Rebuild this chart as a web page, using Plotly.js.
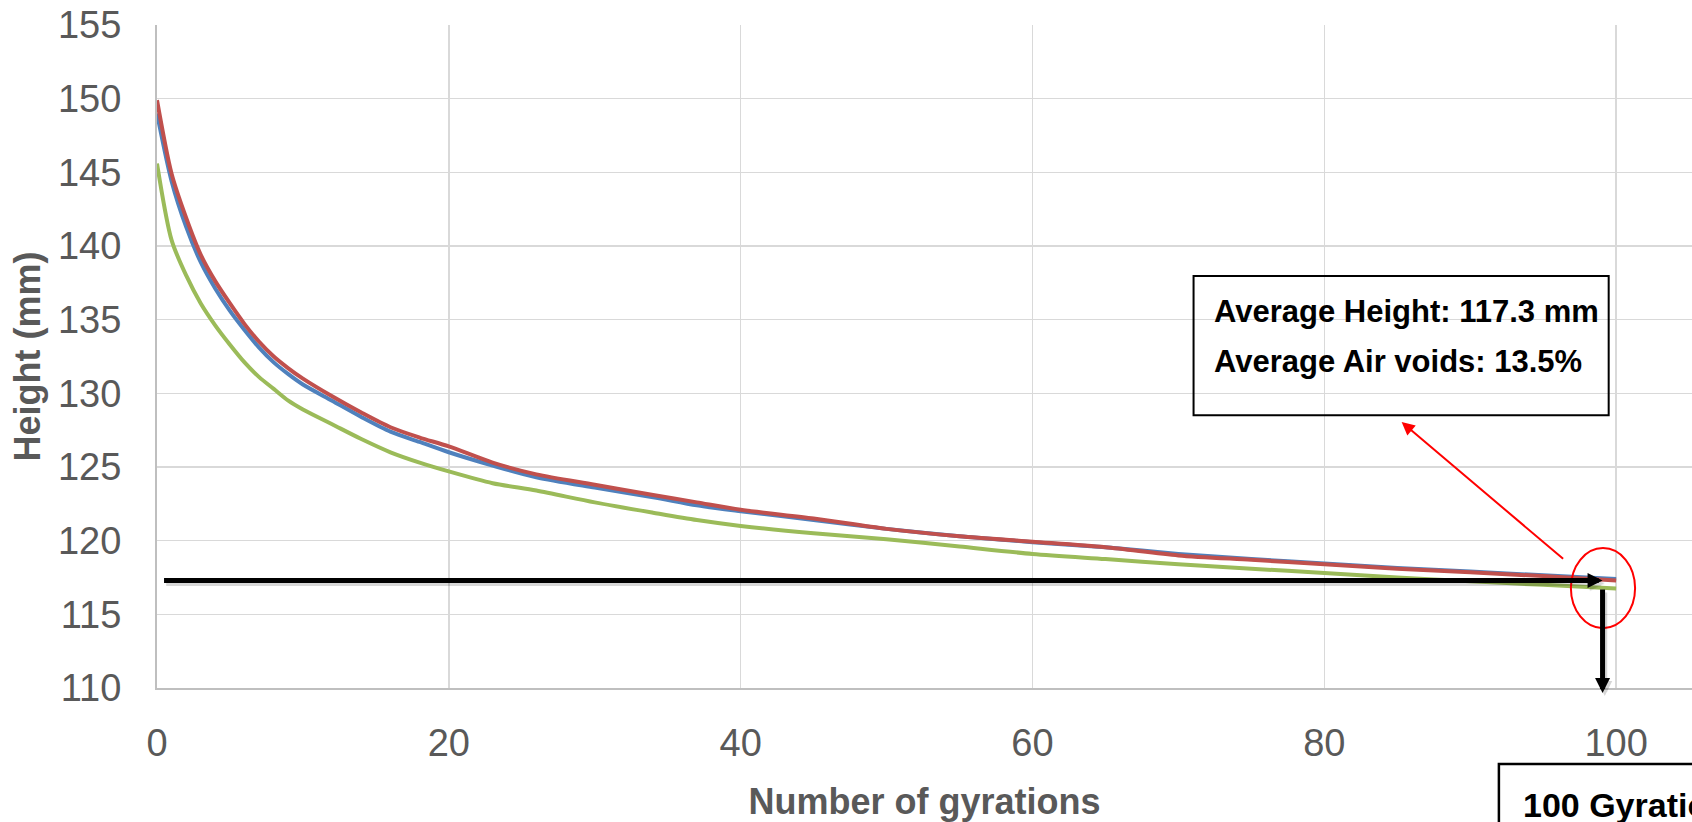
<!DOCTYPE html>
<html>
<head>
<meta charset="utf-8">
<script src="https://cdn.plot.ly/plotly-3.0.1.min.js"></script>
<style>
html,body{margin:0;padding:0;overflow:hidden;background:#fff}
#chart{width:1692px;height:822px}
</style>
</head>
<body>
<div id="chart"></div>
<script>
// ---- data ----
const gyrations = [0,1,2,3,4,5,6,7,8,9,10,12,14,16,18,20,23,26,30,34,37,40,45,50,55,60,65,70,75,80,85,90,95,100];
const sampleBlue = [149.0,144.4,141.3,138.9,137.1,135.6,134.3,133.1,132.1,131.3,130.6,129.5,128.4,127.4,126.7,126.0,125.1,124.3,123.6,122.95,122.4,122.0,121.4,120.8,120.3,119.9,119.55,119.1,118.75,118.45,118.15,117.9,117.65,117.4];
const sampleRed = [149.9,144.9,141.9,139.4,137.6,136.1,134.7,133.5,132.5,131.7,131.0,129.8,128.7,127.7,127.0,126.4,125.3,124.5,123.8,123.1,122.6,122.1,121.5,120.8,120.3,119.93,119.55,119.0,118.7,118.4,118.1,117.85,117.6,117.3];
const sampleGreen = [145.6,140.4,138.0,136.1,134.6,133.3,132.1,131.1,130.3,129.5,128.9,127.9,126.9,126.0,125.3,124.7,123.9,123.4,122.6,121.9,121.4,121.0,120.5,120.1,119.6,119.1,118.75,118.4,118.1,117.8,117.5,117.25,117.0,116.75];
const xTicks = [0,20,40,60,80,100];
const yTicks = [110,115,120,125,130,135,140,145,150,155];
const avgHeight = 117.3;
const avgAirVoids = 13.5;
const targetGyrations = 100;
const xTitle = 'Number of gyrations';
const yTitle = 'Height (mm)';

// ---- styling ----
const FONT = 'Liberation Sans, Arial, sans-serif';
const GREY = '#595959';

function line(y, color) {
  return {x: gyrations, y: y, type: 'scatter', mode: 'lines',
          line: {color: color, width: 4, shape: 'spline', smoothing: 0.8}, hoverinfo: 'skip'};
}
const traces = [
  line(sampleBlue, '#4F81BD'),
  line(sampleRed, '#C0504D'),
  line(sampleGreen, '#9BBB59')
];

const arrowTipX = 99.07;
const SH = 0.2; // shadow offset in mm (~3px)

function blackArrow(x, y, ax, ay, yref, color) {
  return {xref: 'x', yref: yref, axref: 'x', ayref: yref, x: x, y: y, ax: ax, ay: ay,
          text: '', showarrow: true, arrowhead: 2, arrowsize: 0.6, arrowwidth: 5,
          arrowcolor: color, standoff: 0, startstandoff: 0};
}

const layout = {
  width: 1692, height: 822,
  margin: {l: 157, r: 0, t: 25, b: 134, pad: 0},
  paper_bgcolor: '#fff', plot_bgcolor: '#fff',
  showlegend: false,
  xaxis: {
    range: [0, 105.2], tickvals: xTicks, ticks: '',
    showgrid: true, gridcolor: '#d9d9d9', gridwidth: 1.5,
    showline: true, linecolor: '#bfbfbf', linewidth: 2, zeroline: false,
    tickfont: {family: FONT, size: 38, color: GREY},
    ticklabelstandoff: 20,
    title: {text: '<b>' + xTitle + '</b>', font: {family: FONT, size: 36, color: GREY}, standoff: 36},
    automargin: false
  },
  yaxis: {
    range: [110, 155], tickvals: yTicks, ticks: '',
    showgrid: true, gridcolor: '#d9d9d9', gridwidth: 1.5,
    showline: true, linecolor: '#bfbfbf', linewidth: 2, zeroline: false,
    tickfont: {family: FONT, size: 38, color: GREY},
    ticklabelstandoff: 26,
    title: {text: '<b>' + yTitle + '</b>', font: {family: FONT, size: 36, color: GREY}, standoff: 6},
    automargin: false
  },
  shapes: [
    // info box
    {type: 'rect', xref: 'x', yref: 'y', x0: 71.04, x1: 99.49, y0: 128.52, y1: 137.96,
     line: {color: '#000', width: 2}, fillcolor: 'rgba(0,0,0,0)', layer: 'above'},
    // red ellipse around the end point
    {type: 'circle', xref: 'x', yref: 'y', x0: 96.9, x1: 101.3, y0: 114.06, y1: 119.5,
     line: {color: '#ff0000', width: 2}, fillcolor: 'rgba(0,0,0,0)', layer: 'above'},
    // "100 Gyrations" box (cut at the edge)
    {type: 'rect', xref: 'paper', yref: 'paper', x0: 0.8742, x1: 1.2, y0: -0.1146, y1: -0.4,
     line: {color: '#000', width: 2.5}, fillcolor: '#fff', layer: 'above'}
  ],
  annotations: [
    {xref: 'x', yref: 'y', x: 72.27, y: 136.85, xanchor: 'left', yanchor: 'top', showarrow: false,
     text: '<b>Average Height: ' + avgHeight + ' mm</b>', font: {family: FONT, size: 31, color: '#000'}},
    {xref: 'x', yref: 'y', x: 72.27, y: 133.46, xanchor: 'left', yanchor: 'top', showarrow: false,
     text: '<b>Average Air voids: ' + avgAirVoids + '%</b>', font: {family: FONT, size: 31, color: '#000'}},
    // red arrow to info box
    {xref: 'x', yref: 'y', axref: 'x', ayref: 'y', x: 85.30, y: 128.05, ax: 96.47, ay: 118.68,
     text: '', showarrow: true, arrowhead: 2, arrowsize: 1.3, arrowwidth: 2, arrowcolor: '#ff0000', standoff: 0, startstandoff: 0},
    // shadows of the black arrows
    blackArrow(arrowTipX + 0.15, avgHeight - SH, 0.53, avgHeight - SH, 'y', 'rgba(0,0,0,0.16)'),
    blackArrow(arrowTipX + 0.15, -0.0121, arrowTipX + 0.15, 0.1462, 'paper', 'rgba(0,0,0,0.16)'),
    // horizontal black arrow at the average height
    blackArrow(arrowTipX, avgHeight, 0.38, avgHeight, 'y', '#000'),
    // vertical black arrow down to 100 gyrations
    blackArrow(arrowTipX, -0.0075, arrowTipX, 0.1508, 'paper', '#000'),
    // "100 Gyrations" label
    {xref: 'paper', yref: 'paper', x: 0.8886, y: -0.1454, xanchor: 'left', yanchor: 'top', showarrow: false,
     text: '<b>' + targetGyrations + ' Gyrations</b>', font: {family: FONT, size: 34, color: '#000'}}
  ]
};

Plotly.newPlot('chart', traces, layout, {displayModeBar: false, staticPlot: true});
</script>
</body>
</html>
